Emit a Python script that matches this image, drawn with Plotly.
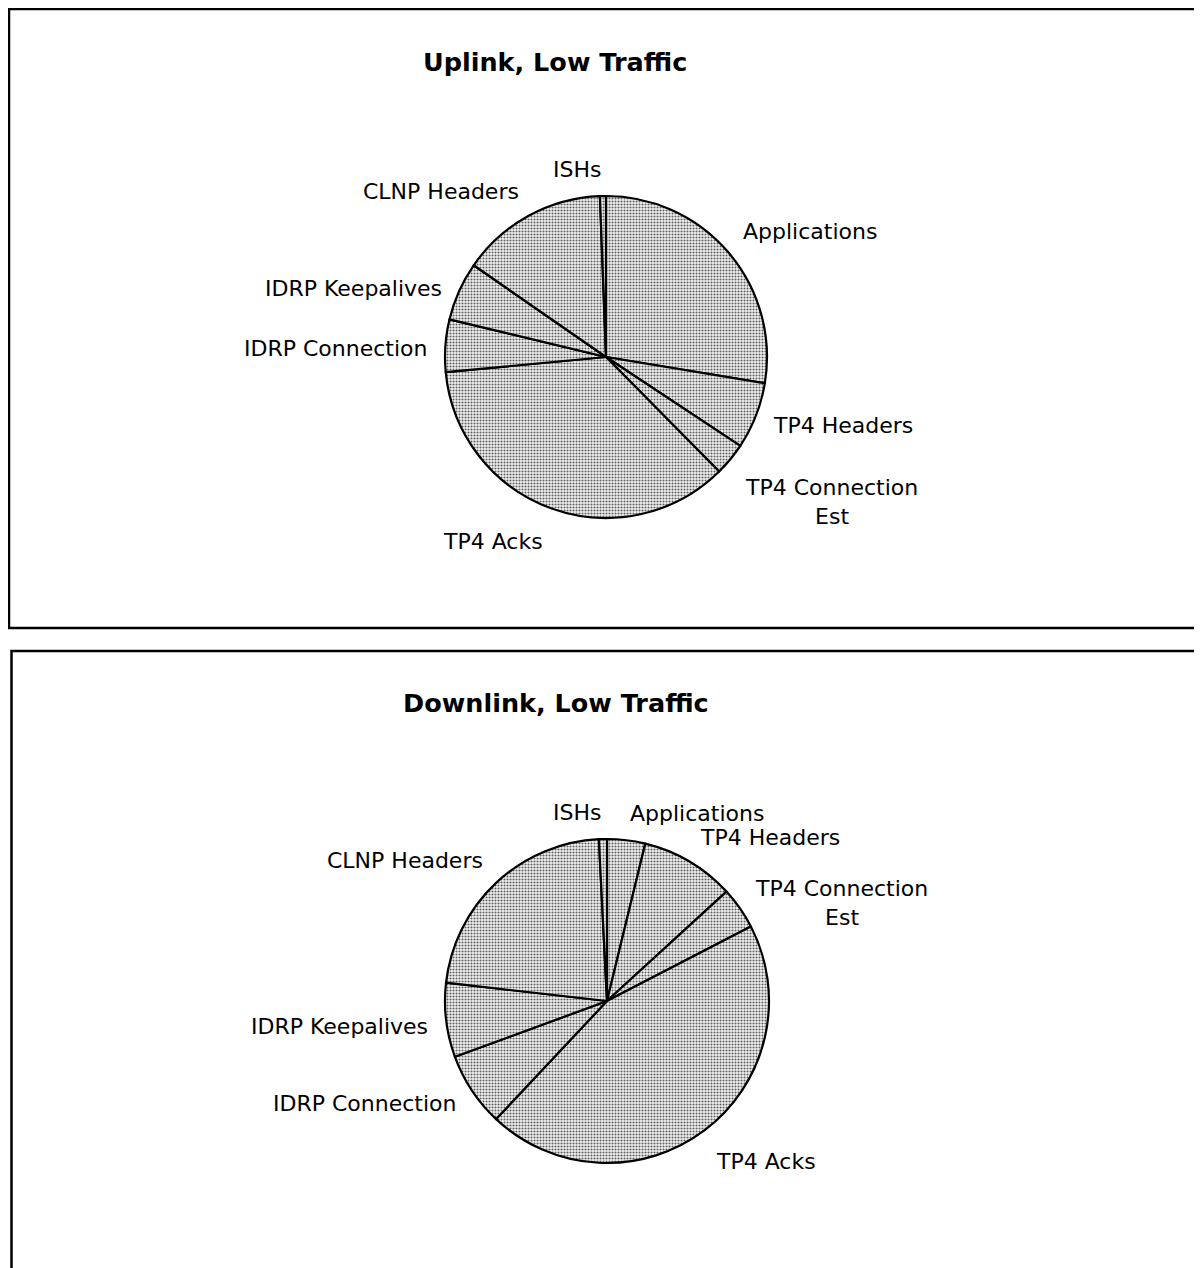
import math
import plotly.graph_objects as go

categories = ["Applications", "TP4 Headers", "TP4 Connection Est", "TP4 Acks",
              "IDRP Connection", "IDRP Keepalives", "CLNP Headers", "ISHs"]
label_text = ["Applications", "TP4 Headers", "TP4 Connection<br>Est", "TP4 Acks",
              "IDRP Connection", "IDRP Keepalives", "CLNP Headers", "ISHs"]
uplink_values = [27.6, 6.7, 3.3, 35.9, 5.25, 5.9, 14.75, 0.6]
downlink_values = [3.8, 9.4, 4.2, 44.6, 7.4, 7.4, 22.4, 0.8]

titles = ["Uplink, Low Traffic", "Downlink, Low Traffic"]

# page has an 8px body margin; figure fills the rest of the window
OFF = 8
W, H = 1202 - OFF, 1268 - OFF
LABEL_FONT = "Century Gothic, DejaVu Sans, sans-serif"
TITLE_FONT = "DejaVu Sans, Arial, sans-serif"


def fx(px):
    return (px - OFF) / W


def fy(py):
    return 1 - (py - OFF) / H


# pie boxes in page pixels: (left, right, top, bottom)
boxes = [(445, 767, 196, 518), (445, 769, 839, 1163)]

fig = go.Figure()
annotations = []
for vals, (l, rgt, t, b) in zip([uplink_values, downlink_values], boxes):
    dom = dict(x=[fx(l), fx(rgt)], y=[fy(b), fy(t)])
    fig.add_trace(go.Pie(
        labels=categories, values=vals, sort=False, direction="clockwise",
        rotation=0, textinfo="none", hoverinfo="label+percent",
        domain=dom, showlegend=False,
        marker=dict(colors=["#ffffff"] * len(vals),
                    line=dict(color="black", width=2.2),
                    pattern=dict(shape=".", fgcolor="#606060", bgcolor="#f4f4f4",
                                 size=3, solidity=0.4)),
    ))
    # labels placed from the data (mid-angle of each slice)
    cx, cy = (l + rgt) / 2, (t + b) / 2
    r = (rgt - l) / 2
    total = sum(vals)
    cum = 0
    for lab, v in zip(label_text, vals):
        mid = (cum + v / 2) / total * 2 * math.pi
        cum += v
        s, c = math.sin(mid), math.cos(mid)
        px = cx + 1.1 * r * s
        py = cy - 1.1 * r * c + 4
        xa = "left" if s >= 0 else "right"
        if abs(c) < 0.6:
            ya = "middle"
        elif c > 0:
            ya = "bottom"
        else:
            ya = "top"
        annotations.append(dict(
            x=fx(px), y=fy(py), xref="paper", yref="paper",
            text=lab, showarrow=False, xanchor=xa, yanchor=ya,
            align="center", font=dict(family=LABEL_FONT, size=22, color="black"),
        ))

for title, (tx, ty) in zip(titles, [(555, 62), (556, 703)]):
    annotations.append(dict(x=fx(tx), y=fy(ty), xref="paper", yref="paper",
                            text="<b>" + title + "</b>", showarrow=False,
                            xanchor="center", yanchor="middle",
                            font=dict(family=TITLE_FONT, size=25.5, color="black")))

shapes = [
    dict(type="rect", xref="paper", yref="paper", x0=fx(9), x1=1.02,
         y0=fy(628), y1=fy(9), line=dict(color="black", width=2.5)),
    dict(type="rect", xref="paper", yref="paper", x0=fx(11.5), x1=1.02,
         y0=-0.02, y1=fy(651), line=dict(color="black", width=2.5)),
]

fig.update_layout(
    width=W, height=H, margin=dict(l=0, r=0, t=0, b=0),
    paper_bgcolor="white", plot_bgcolor="white",
    annotations=annotations, shapes=shapes,
    font=dict(family=LABEL_FONT),
)

fig.write_html("out.html")
